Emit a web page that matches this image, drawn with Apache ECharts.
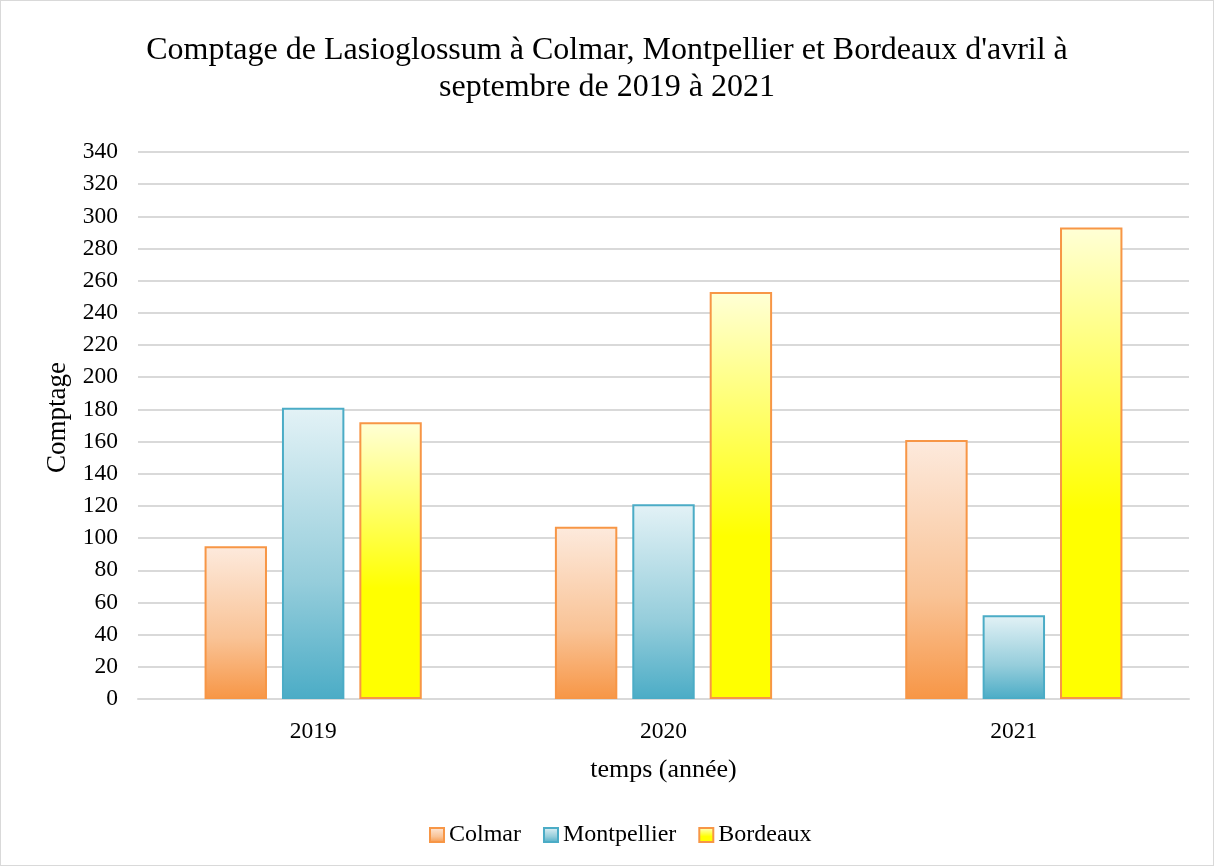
<!DOCTYPE html>
<html><head><meta charset="utf-8">
<script src="https://cdn.jsdelivr.net/npm/echarts@6/dist/echarts.min.js"></script>
<style>html,body{margin:0;padding:0;background:#fff}#c{width:1214px;height:866px;box-sizing:border-box;border:1px solid #d9d9d9}</style>
</head><body><div id="c"></div>
<script>
const categories = ['2019', '2020', '2021'];
const colmar = [95, 107, 161];
const montpellier = [181, 121, 52];
const bordeaux = [172, 253, 293];
const yTicks = {min: 0, max: 340, interval: 20};

const font = '"Liberation Serif", "Times New Roman", serif';
function grad(top, mid, bottom, midStop) {
  return new echarts.graphic.LinearGradient(0, 0, 0, 1, [
    {offset: 0, color: top}, {offset: midStop, color: mid}, {offset: 1, color: bottom}
  ]);
}
const chart = echarts.init(document.getElementById('c'), null, {renderer: 'canvas'});
chart.setOption({
  animation: false,
  backgroundColor: '#fff',
  title: {
    text: "Comptage de Lasioglossum à Colmar, Montpellier et Bordeaux d'avril à\nseptembre de 2019 à 2021",
    left: 'center', top: 26,
    textStyle: {fontFamily: font, fontSize: 32, fontWeight: 'normal', color: '#000', lineHeight: 37}
  },
  legend: {
    bottom: 13, left: 423, icon: 'rect', itemWidth: 14, itemHeight: 14, itemGap: 22,
    textStyle: {fontFamily: font, fontSize: 24, color: '#000', padding: [0, 0, 0, 0]},
    data: ['Colmar', 'Montpellier', 'Bordeaux']
  },
  grid: {left: 137, right: 24, top: 151, bottom: 166, containLabel: false},
  xAxis: {
    type: 'category', data: categories,
    name: 'temps (année)', nameLocation: 'middle', nameGap: 58,
    nameTextStyle: {fontFamily: font, fontSize: 26, color: '#000'},
    axisLine: {lineStyle: {color: '#d9d9d9', width: 2}},
    axisTick: {show: false},
    axisLabel: {fontFamily: font, fontSize: 23.5, color: '#000', margin: 21}
  },
  yAxis: {
    type: 'value', min: yTicks.min, max: yTicks.max, interval: yTicks.interval,
    name: 'Comptage', nameLocation: 'middle', nameGap: 60, nameRotate: 90,
    nameTextStyle: {fontFamily: font, fontSize: 27, color: '#000', padding: [0, 0, 0, 16]},
    axisLine: {show: false}, axisTick: {show: false},
    axisLabel: {fontFamily: font, fontSize: 23.5, color: '#000', margin: 20},
    splitLine: {lineStyle: {color: '#d9d9d9', width: 2}}
  },
  series: [
    {name: 'Colmar', type: 'bar', data: colmar, barGap: '24%', barCategoryGap: '38%',
     itemStyle: {color: grad('#fdeadd', '#f9c396', '#f79646', 0.6), borderColor: '#f79646', borderWidth: 2}},
    {name: 'Montpellier', type: 'bar', data: montpellier,
     itemStyle: {color: grad('#e3f2f6', '#95cddb', '#4bacc6', 0.6), borderColor: '#4bacc6', borderWidth: 2}},
    {name: 'Bordeaux', type: 'bar', data: bordeaux,
     itemStyle: {color: grad('#ffffd6', '#ffff00', '#ffff00', 0.6), borderColor: '#f79646', borderWidth: 2}}
  ]
});
</script></body></html>
